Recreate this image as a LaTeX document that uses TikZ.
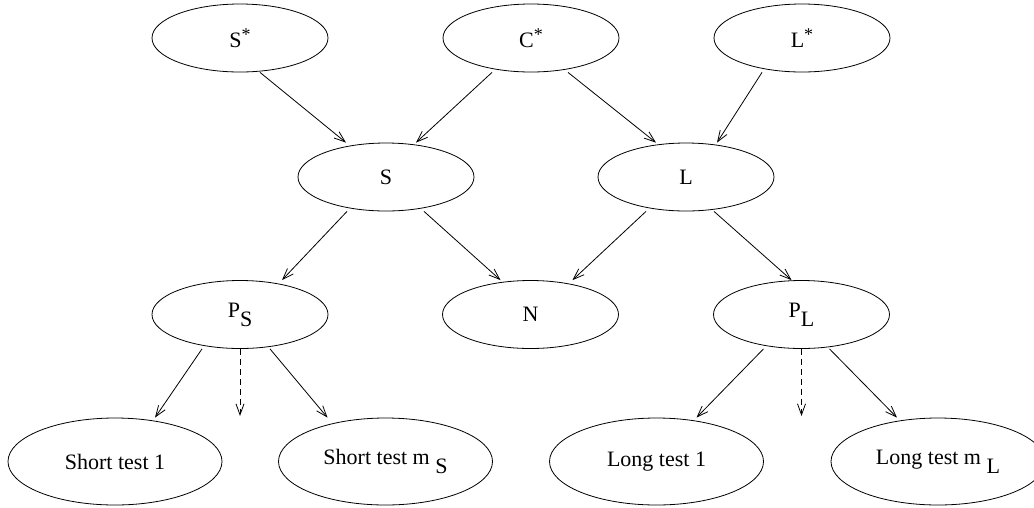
\documentclass[tikz,border=0pt]{standalone}
\usepackage{fontspec}
\setmainfont{Liberation Serif}
\usetikzlibrary{shapes.geometric,arrows.meta}
% raised asterisk and lowered index, as used in the node labels
\newcommand\starsup{\raisebox{0.33em}{\fontsize{18}{18}\selectfont *}}
\newcommand\lowsub[1]{\raisebox{-0.4em}{#1}}
\begin{document}
\begin{tikzpicture}[x=1pt,y=-1pt,
  var/.style={draw, ellipse, inner sep=0pt, minimum width=176pt, minimum height=68pt,
              line width=0.8pt, font=\fontsize{22}{26}\selectfont},
  test/.style={var, minimum width=214pt, minimum height=87pt},
  edge/.style={line width=0.8pt, -{Straight Barb[length=11pt,width=8pt]}},
  hint/.style={edge, dash pattern=on 6pt off 4pt}]
\useasboundingbox (0,0) rectangle (1034,507);
\clip (0,0) rectangle (1034,507);

% latent variables
\node[var] (Sstar) at (240,38) {S\starsup};
\node[var] (Cstar) at (531,38) {C\starsup};
\node[var] (Lstar) at (802,38) {L\starsup};
\node[var] (S) at (386,177) {S};
\node[var] (L) at (686,177) {L};
\node[var] (PS) at (240,314.5) {P\lowsub{S}};
\node[var] (N) at (530.5,314.5) {N};
\node[var] (PL) at (801.5,314.5) {P\lowsub{L}};

% observed tests
\node[test] (ST1) at (115,461.5) {Short test 1};
\node[test] (STm) at (385.5,461.5) {Short test m \lowsub{S}};
\node[test] (LT1) at (656.5,461.5) {Long test 1};
\node[test] (LTm) at (938,461.5) {Long test m \lowsub{L}};

% free ends of the dashed "more tests" arrows
\coordinate (psmore) at (240,416);
\coordinate (plmore) at (801.5,416);

\draw[edge] ([xshift=20pt]Sstar.south) -- ([xshift=-40pt]S.north);
\draw[edge] ([xshift=-39pt]Cstar.south) -- ([xshift=30pt]S.north);
\draw[edge] ([xshift=37pt]Cstar.south) -- ([xshift=-30pt]L.north);
\draw[edge] ([xshift=-40pt]Lstar.south) -- ([xshift=31pt]L.north);

\draw[edge] ([xshift=-39pt]S.south) -- ([xshift=42pt]PS.north);
\draw[edge] ([xshift=38pt]S.south) -- ([xshift=-30pt]N.north);
\draw[edge] ([xshift=-40pt]L.south) -- ([xshift=42pt]N.north);
\draw[edge] ([xshift=28pt]L.south) -- ([xshift=-10pt]PL.north);

\draw[edge] ([xshift=-38pt]PS.south) -- ([xshift=40pt]ST1.north);
\draw[hint] (PS.south) -- (psmore);
\draw[edge] ([xshift=30pt]PS.south) -- ([xshift=-58pt]STm.north);

\draw[edge] ([xshift=-38pt]PL.south) -- ([xshift=40pt]LT1.north);
\draw[hint] (PL.south) -- (plmore);
\draw[edge] ([xshift=28pt]PL.south) -- ([xshift=-41pt]LTm.north);
\end{tikzpicture}
\end{document}
